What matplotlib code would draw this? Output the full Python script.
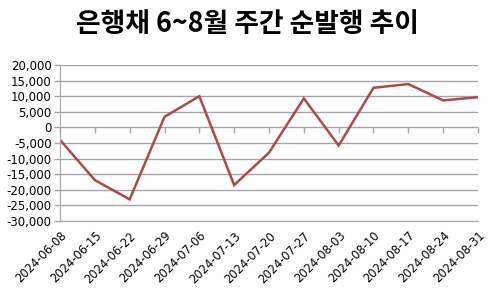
import matplotlib
matplotlib.use('Agg')
import matplotlib.pyplot as plt
from matplotlib.ticker import FuncFormatter

# weekly net issuance of bank bonds (100 million KRW)
dates = ['2024-06-08', '2024-06-15', '2024-06-22', '2024-06-29', '2024-07-06',
         '2024-07-13', '2024-07-20', '2024-07-27', '2024-08-03', '2024-08-10',
         '2024-08-17', '2024-08-24', '2024-08-31']
net_issue = [-4000, -16900, -23100, 3400, 10000, -18500, -8100,
             9300, -5800, 12700, 13900, 8650, 9700]
y_ticks = list(range(-30000, 20001, 5000))

plt.rcParams['font.family'] = ['DejaVu Sans']

fig = plt.figure(figsize=(5, 2.93), dpi=100)
ax = fig.add_axes([0.12, 0.246, 0.836, 0.532])

x = list(range(len(dates)))
ax.plot(x, net_issue, color='#b0474a', linewidth=1.8, solid_joinstyle='miter')

ax.set_xlim(0, len(dates) - 1)
ax.set_ylim(-30000, 20000)
ax.set_yticks(y_ticks)
ax.yaxis.set_major_formatter(FuncFormatter(lambda v, p: f'{int(v):,}'))
ax.grid(axis='y', color='#a6a6a6', linewidth=1.0)
ax.set_axisbelow(True)

ax.set_xticks(x)
ax.set_xticklabels(dates, rotation=45, ha='right', rotation_mode='anchor')
ax.tick_params(axis='x', length=0, pad=6, labelsize=8.3, colors='black')
ax.tick_params(axis='y', length=4, width=1, color='#a6a6a6', labelsize=8.5, pad=2)

for s in ['top', 'right']:
    ax.spines[s].set_visible(False)
ax.spines['left'].set_color('#a6a6a6')
ax.spines['bottom'].set_color('#a6a6a6')

# category tick marks hang below the zero line
zero_axis = ax.secondary_xaxis(0.6)
zero_axis.set_xticks(x)
zero_axis.set_xticklabels([''] * len(x))
zero_axis.xaxis.set_ticks_position('bottom')
zero_axis.tick_params(axis='x', direction='out', length=4, width=1, color='#a6a6a6',
                      labelbottom=False, labeltop=False)
zero_axis.spines['bottom'].set_visible(False)
zero_axis.spines['top'].set_visible(False)

fig.suptitle('은행채 6~8월 주간 순발행 추이', x=0.494, y=0.965,
             fontsize=19.3, fontweight='bold', family=['Noto Sans CJK KR', 'DejaVu Sans'])

fig.savefig('out.png', dpi=100, facecolor='white')
